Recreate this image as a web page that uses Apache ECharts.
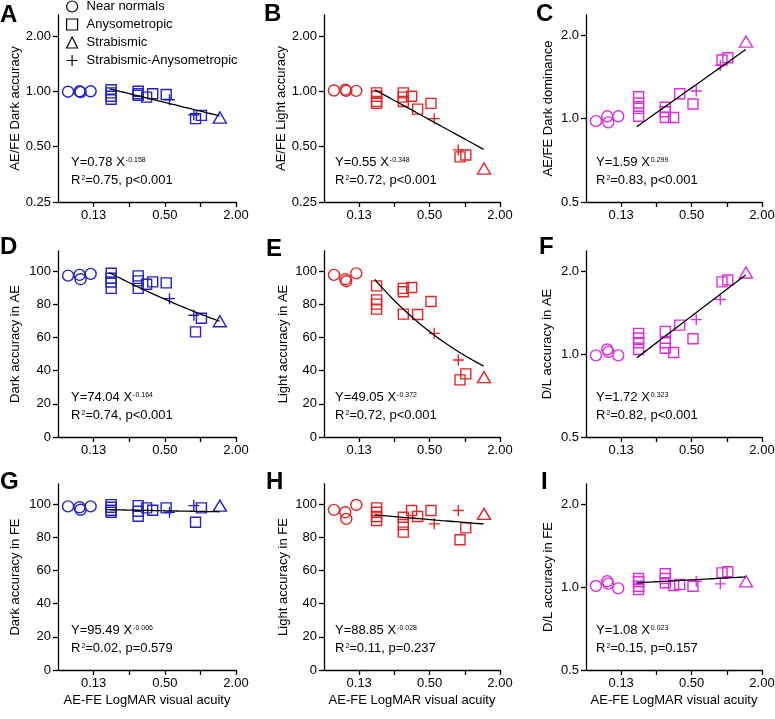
<!DOCTYPE html>
<html><head><meta charset="utf-8">
<script src="https://cdn.jsdelivr.net/npm/echarts@6/dist/echarts.min.js"></script>
<style>html,body{margin:0;padding:0;background:#fff}#c{width:775px;height:719px}</style>
</head><body><div id="c"></div>
<script>
// ---------- DATA ----------
const groupNames = ['Near normals', 'Anysometropic', 'Strabismic', 'Strabismic-Anysometropic'];
// AE-FE LogMAR visual acuity (x) per group
const xNN = [0.076, 0.095, 0.097, 0.118];
const xAN = [0.176, 0.176, 0.176, 0.176, 0.298, 0.298, 0.298, 0.351, 0.395, 0.514, 0.91, 1.02];
const xST = [1.46];
const xSA = [0.548, 0.88];

// A: AE/FE Dark accuracy
const A_NN = [0.995, 1.0, 0.99, 1.0];
const A_AN = [1.02, 0.98, 0.94, 0.905, 1.0, 0.97, 0.95, 0.93, 0.97, 0.96, 0.71, 0.74];
const A_ST = [0.72];
const A_SA = [0.90, 0.745];
// B: AE/FE Light accuracy
const B_NN = [1.01, 1.02, 1.005, 1.005];
const B_AN = [0.98, 0.94, 0.88, 0.86, 0.98, 0.93, 0.88, 0.94, 0.80, 0.86, 0.44, 0.45];
const B_ST = [0.38];
const B_SA = [0.71, 0.48];
// C: AE/FE Dark dominance
const C_NN = [0.98, 1.02, 0.97, 1.02];
const C_AN = [1.2, 1.14, 1.09, 1.02, 1.10, 1.06, 1.01, 1.01, 1.23, 1.13, 1.63, 1.66];
const C_ST = [1.90];
const C_SA = [1.26, 1.56];
// D: Dark accuracy in AE
const D_NN = [97.2, 97.6, 95, 98.2];
const D_AN = [98.6, 95.6, 93.3, 89.5, 97, 94, 89.5, 92, 93.4, 92.8, 63.3, 71.5];
const D_ST = [69.7];
const D_SA = [83.3, 73.3];
// E: Light accuracy in AE
const E_NN = [97.6, 95, 93.8, 98.5];
const E_AN = [91, 82.6, 80, 77, 89.5, 87.5, 74, 90, 73.8, 81.6, 34.4, 38];
const E_ST = [36];
const E_SA = [62.4, 46.4];
// F: D/L accuracy in AE
const F_NN = [0.99, 1.04, 1.02, 0.99];
const F_AN = [1.19, 1.145, 1.10, 1.04, 1.21, 1.10, 1.05, 1.014, 1.275, 1.137, 1.83, 1.86];
const F_ST = [1.98];
const F_SA = [1.335, 1.58];
// G: Dark accuracy in FE
const G_NN = [98.5, 98, 96.5, 98.5];
const G_AN = [99.6, 98, 96.2, 95, 99, 95.6, 92.6, 97.6, 96.2, 97.6, 89, 97.6];
const G_ST = [99];
const G_SA = [95, 99];
// H: Light accuracy in FE
const H_NN = [96.4, 95, 91, 99.4];
const H_AN = [97.6, 95, 92.4, 90, 92, 87.6, 83, 96, 92.4, 96, 78.4, 85.6];
const H_ST = [94];
const H_SA = [88, 96];
// I: D/L accuracy in FE
const I_NN = [1.01, 1.05, 1.03, 0.99];
const I_AN = [1.075, 1.046, 1.008, 0.98, 1.118, 1.075, 1.037, 1.014, 1.022, 1.008, 1.127, 1.137];
const I_ST = [1.05];
const I_SA = [1.05, 1.028];

// power-law fits  Y = a * X^b  (as printed in each panel)
const fitA = [0.78, -0.158], fitB = [0.55, -0.348], fitC = [1.59, 0.299];
const fitD = [74.04, -0.164], fitE = [49.05, -0.372], fitF = [1.72, 0.323];
const fitG = [95.49, -0.006], fitH = [88.85, -0.028], fitI = [1.08, 0.023];
const fitRange = [0.17, 1.45];

const statsText = {
  A: ['0.78', '-0.158', '0.75', 'p<0.001'], B: ['0.55', '-0.348', '0.72', 'p<0.001'], C: ['1.59', '0.299', '0.83', 'p<0.001'],
  D: ['74.04', '-0.164', '0.74', 'p<0.001'], E: ['49.05', '-0.372', '0.72', 'p<0.001'], F: ['1.72', '0.323', '0.82', 'p<0.001'],
  G: ['95.49', '-0.006', '0.02', 'p=0.579'], H: ['88.85', '-0.028', '0.11', 'p=0.237'], I: ['1.08', '0.023', '0.15', 'p=0.157']
};
const yNames = {
  A: 'AE/FE Dark accuracy', B: 'AE/FE Light accuracy', C: 'AE/FE Dark dominance',
  D: 'Dark accuracy in AE', E: 'Light accuracy in AE', F: 'D/L accuracy in AE',
  G: 'Dark accuracy in FE', H: 'Light accuracy in FE', I: 'D/L accuracy in FE'
};
const xTicks = [0.125, 0.25, 0.5, 1, 2];
const xTickLabels = [0.125, 0.5, 2];
const ratioTicksWide = [0.25, 0.5, 1, 2];
const ratioTicksNarrow = [0.5, 1, 2];
const pctTicks = [0, 20, 40, 60, 80, 100];

// ---------- LAYOUT ----------
const FONT = '"Liberation Sans", Arial, Helvetica, sans-serif';
const BLUE = '#2222c8', RED = '#e22626', MAG = '#dd2ddd';
const cols = [{ left: 58, width: 178 }, { left: 324, width: 176 }, { left: 586, width: 176 }];
const rows = [{ top: 15, height: 187 }, { top: 251, height: 186 }, { top: 484, height: 186 }];

const panelDefs = [
  { id: 'A', ys: [A_NN, A_AN, A_ST, A_SA], fit: fitA, color: BLUE, yType: 'wide', nameGap: 36, letter: [0, 3] },
  { id: 'B', ys: [B_NN, B_AN, B_ST, B_SA], fit: fitB, color: RED, yType: 'wide', nameGap: 34, letter: [264, 2] },
  { id: 'C', ys: [C_NN, C_AN, C_ST, C_SA], fit: fitC, color: MAG, yType: 'narrow', nameGap: 31, letter: [536, 2] },
  { id: 'D', ys: [D_NN, D_AN, D_ST, D_SA], fit: fitD, color: BLUE, yType: 'pct', nameGap: 36, letter: [0, 235] },
  { id: 'E', ys: [E_NN, E_AN, E_ST, E_SA], fit: fitE, color: RED, yType: 'pct', nameGap: 34, letter: [266, 237] },
  { id: 'F', ys: [F_NN, F_AN, F_ST, F_SA], fit: fitF, color: MAG, yType: 'narrow', nameGap: 32, letter: [539, 235] },
  { id: 'G', ys: [G_NN, G_AN, G_ST, G_SA], fit: fitG, color: BLUE, yType: 'pct', nameGap: 36, letter: [0, 470] },
  { id: 'H', ys: [H_NN, H_AN, H_ST, H_SA], fit: fitH, color: RED, yType: 'pct', nameGap: 34, letter: [266, 470] },
  { id: 'I', ys: [I_NN, I_AN, I_ST, I_SA], fit: fitI, color: MAG, yType: 'narrow', nameGap: 31, letter: [541, 470] }
];
const eqLeftOffset = [13, 11, 10];

const xsByGroup = [xNN, xAN, xST, xSA];
const symbols = ['circle', 'rect', 'triangle', 'path://M5,0L5,10M0,5L10,5'];
const symbolSizes = [11, 10, [13, 11], 11];

const axisCommon = {
  axisLine: { show: true, onZero: false, lineStyle: { color: '#000', width: 1.3 } },
  axisTick: { show: true, length: 5, lineStyle: { color: '#000', width: 1.3 } },
  splitLine: { show: false },
  axisLabel: { color: '#000', fontSize: 13, fontFamily: FONT, margin: 7 }
};

const grids = [], xAxes = [], yAxes = [], series = [], graphics = [];

panelDefs.forEach((p, i) => {
  const r = Math.floor(i / 3), c = i % 3;
  grids.push({ left: cols[c].left, top: rows[r].top, width: cols[c].width, height: rows[r].height,
               containLabel: false, outerBoundsMode: 'none' });
  const xa = {
    gridIndex: i, type: 'log', logBase: 2, min: 0.0625, max: 2,
    axisLine: axisCommon.axisLine, splitLine: { show: false },
    axisTick: Object.assign({}, axisCommon.axisTick, { customValues: xTicks }),
    axisLabel: Object.assign({}, axisCommon.axisLabel, {
      customValues: xTickLabels,
      formatter: v => (Math.round(v * 100) / 100).toFixed(2)
    })
  };
  if (r === 2) {
    Object.assign(xa, { name: 'AE-FE LogMAR visual acuity', nameLocation: 'middle', nameGap: 24,
      nameTextStyle: { fontSize: 13, fontFamily: FONT, color: '#000' } });
  }
  xAxes.push(xa);

  const ya = {
    gridIndex: i, name: yNames[p.id], nameLocation: 'middle', nameGap: p.nameGap,
    nameTextStyle: { fontSize: 13, fontFamily: FONT, color: '#000' },
    axisLine: axisCommon.axisLine, splitLine: { show: false }
  };
  if (p.yType === 'pct') {
    Object.assign(ya, { type: 'value', min: 0, max: 112,
      axisTick: Object.assign({}, axisCommon.axisTick, { customValues: pctTicks }),
      axisLabel: Object.assign({}, axisCommon.axisLabel, { customValues: pctTicks, formatter: v => String(Math.round(v)) }) });
  } else if (p.yType === 'wide') {
    Object.assign(ya, { type: 'log', logBase: 2, min: 0.25, max: 2.6,
      axisTick: Object.assign({}, axisCommon.axisTick, { customValues: ratioTicksWide }),
      axisLabel: Object.assign({}, axisCommon.axisLabel, { customValues: ratioTicksWide, formatter: v => (+v).toFixed(2) }) });
  } else {
    Object.assign(ya, { type: 'log', logBase: 2, min: 0.5, max: 2.37,
      axisTick: Object.assign({}, axisCommon.axisTick, { customValues: ratioTicksNarrow }),
      axisLabel: Object.assign({}, axisCommon.axisLabel, { customValues: ratioTicksNarrow, formatter: v => (+v).toFixed(1) }) });
  }
  yAxes.push(ya);

  // scatter series
  p.ys.forEach((ys, g) => {
    series.push({
      type: 'scatter', name: groupNames[g], xAxisIndex: i, yAxisIndex: i,
      symbol: symbols[g], symbolSize: symbolSizes[g], silent: true, z: 2,
      itemStyle: { color: 'rgba(0,0,0,0)', borderColor: p.color, borderWidth: 1.4, opacity: 1 },
      data: xsByGroup[g].map((x, k) => [x, ys[k]])
    });
  });
  // fit curve from the printed equation
  const n = 40, pts = [];
  for (let k = 0; k < n; k++) {
    const x = fitRange[0] * Math.pow(fitRange[1] / fitRange[0], k / (n - 1));
    pts.push([x, p.fit[0] * Math.pow(x, p.fit[1])]);
  }
  series.push({ type: 'line', xAxisIndex: i, yAxisIndex: i, data: pts, showSymbol: false, silent: true, z: 3,
    lineStyle: { color: '#000', width: 1.3 } });

  // panel letter
  graphics.push({ type: 'text', left: p.letter[0], top: p.letter[1], silent: true,
    style: { text: p.id, font: 'bold 24px ' + FONT, fill: '#000' } });
  // equation text
  const s = statsText[p.id];
  const bottom = rows[r].top + rows[r].height;
  graphics.push({ type: 'text', left: cols[c].left + eqLeftOffset[c], top: bottom - 46, silent: true,
    style: {
      text: '{t|Y=' + s[0] + ' X}{s|' + s[1] + '}\n{t|R}{s|2}{t|=' + s[2] + ', ' + s[3] + '}',
      rich: {
        t: { fontSize: 13, fontFamily: FONT, lineHeight: 18, fill: '#000' },
        s: { fontSize: 7, fontFamily: FONT, verticalAlign: 'top', padding: [3, 0, 0, 1], fill: '#000' }
      }
    } });
});

const chart = echarts.init(document.getElementById('c'), null, { renderer: 'canvas' });
chart.setOption({
  animation: false,
  backgroundColor: '#fff',
  textStyle: { fontFamily: FONT },
  grid: grids, xAxis: xAxes, yAxis: yAxes, series: series, graphic: graphics,
  legend: {
    orient: 'vertical', left: 66, top: 0, padding: 0, itemWidth: 11, itemHeight: 11, itemGap: 5,
    selectedMode: false,
    textStyle: { fontSize: 13, fontFamily: FONT, color: '#000', padding: [0, 0, 0, 4] },
    data: groupNames.map((nm, g) => ({
      name: nm, icon: symbols[g],
      itemStyle: { color: 'rgba(0,0,0,0)', borderColor: '#000', borderWidth: 1.2 }
    }))
  }
});
</script></body></html>
